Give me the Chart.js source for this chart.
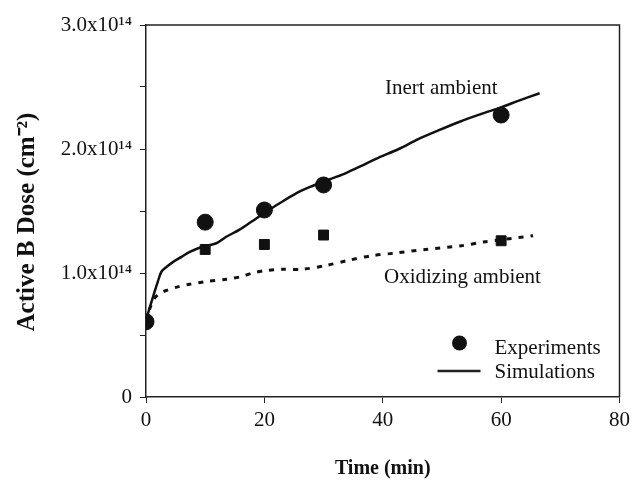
<!DOCTYPE html>
<html>
<head>
<meta charset="utf-8">
<script src="https://cdn.jsdelivr.net/npm/chart.js@4.4.1/dist/chart.umd.min.js"></script>
<style>
  body { margin: 0; background: #fff; }
  #wrap { width: 635px; height: 485px; }
</style>
</head>
<body>
<div id="wrap"><canvas id="myChart" width="635" height="485"></canvas></div>
<script>
// dose values are in units of 1e14 cm^-2
const expTime = [0, 10, 20, 30, 60]
const expInert = [0.607, 1.41, 1.508, 1.71, 2.274]
const expOxTime = [10, 20, 30, 60]
const expOx = [1.19, 1.23, 1.306, 1.26]

const simInertTime = [0, 0.5, 1.2, 2, 2.6, 3.5, 4.6, 6, 7.4, 9.4, 11.9, 13.5, 15.8, 18, 20.2, 22.5, 25.3, 27.5, 30.1, 33.5, 37.1, 39.3, 42.7, 46, 49.4, 53, 56.5, 60.2, 63, 66.5]
const simInert = [0.61, 0.70, 0.81, 0.93, 1.01, 1.05, 1.09, 1.13, 1.17, 1.21, 1.24, 1.29, 1.35, 1.42, 1.49, 1.56, 1.64, 1.69, 1.74, 1.80, 1.88, 1.93, 2.00, 2.08, 2.15, 2.22, 2.28, 2.34, 2.39, 2.45]

const simOxTime = [0, 0.7, 1.5, 2.5, 3.5, 5.5, 7.4, 10, 13.6, 16, 18, 20.3, 23, 26.4, 30.4, 34, 38.2, 42, 47.2, 53.3, 57, 60.2, 65.4]
const simOx = [0.61, 0.72, 0.80, 0.84, 0.86, 0.89, 0.91, 0.93, 0.95, 0.97, 1.00, 1.02, 1.03, 1.03, 1.06, 1.10, 1.14, 1.16, 1.19, 1.22, 1.25, 1.27, 1.30]

const xTicks = [0, 20, 40, 60, 80]
const yTickLabels = {0: '0', 1: '1.0x10¹⁴', 2: '2.0x10¹⁴', 3: '3.0x10¹⁴'}
const yTitle = 'Active B Dose (cm⁻²)'

const serif = '"Liberation Serif", "Times New Roman", serif'

function pts(xs, ys) {
  let out = []
  for (let i = 0; i < xs.length; i++) {
    out.push({x: xs[i], y: ys[i]})
  }
  return out
}

// box on top and right, y title, text labels and legend
const extras = {
  id: 'extras',
  afterDatasetsDraw(chart) {
    const ctx = chart.ctx
    const a = chart.chartArea
    ctx.save()
    ctx.strokeStyle = '#222'
    ctx.lineWidth = 1.5
    ctx.beginPath()
    ctx.moveTo(a.left, a.top)
    ctx.lineTo(a.right, a.top)
    ctx.lineTo(a.right, a.bottom)
    ctx.stroke()

    ctx.fillStyle = '#111'
    ctx.textBaseline = 'middle'

    // y axis title, a bit below the middle like the original
    ctx.save()
    ctx.translate(28, (a.top + a.bottom) / 2 + 11)
    ctx.rotate(-Math.PI / 2)
    ctx.textAlign = 'center'
    ctx.font = 'bold 25px ' + serif
    ctx.fillText(yTitle, 0, 0)
    ctx.restore()

    ctx.font = '21px ' + serif
    ctx.textAlign = 'left'
    ctx.fillText('Inert ambient', 385, 88)
    ctx.fillText('Oxidizing ambient', 384, 277)

    // legend
    ctx.beginPath()
    ctx.arc(a.right - 160, a.bottom - 54, 7.5, 0, Math.PI * 2)
    ctx.fill()
    ctx.fillText('Experiments', a.right - 125, a.bottom - 49)
    ctx.lineWidth = 2.5
    ctx.beginPath()
    ctx.moveTo(a.right - 182, a.bottom - 26)
    ctx.lineTo(a.right - 139, a.bottom - 26)
    ctx.stroke()
    ctx.fillText('Simulations', a.right - 125, a.bottom - 25)
    ctx.restore()
  }
}

const ctx = document.getElementById('myChart').getContext('2d')

const config = {
  type: 'scatter',
  data: {
    datasets: [
      {
        label: 'Simulations (inert)',
        data: pts(simInertTime, simInert),
        showLine: true,
        borderColor: '#111',
        borderWidth: 2.5,
        pointRadius: 0,
        tension: 0.3
      },
      {
        label: 'Simulations (oxidizing)',
        data: pts(simOxTime, simOx),
        showLine: true,
        borderColor: '#111',
        borderWidth: 3,
        borderDash: [5, 7],
        pointRadius: 0,
        tension: 0.3
      },
      {
        label: 'Experiments (oxidizing)',
        data: pts(expOxTime, expOx),
        pointStyle: 'rect',
        pointRadius: 7,
        backgroundColor: '#111',
        borderColor: '#111'
      },
      {
        label: 'Experiments (inert)',
        data: pts(expTime, expInert),
        pointStyle: 'circle',
        pointRadius: 8,
        backgroundColor: '#111',
        borderColor: '#111'
      }
    ]
  },
  options: {
    responsive: false,
    animation: false,
    layout: { padding: { left: 0, right: 13, top: 25, bottom: 0 } },
    plugins: {
      legend: { display: false },
      tooltip: { enabled: false }
    },
    scales: {
      x: {
        type: 'linear',
        min: 0,
        max: 80,
        afterFit: function(s) { s.height = 88 },
        afterBuildTicks: function(s) { s.ticks = xTicks.map(v => ({value: v})) },
        grid: { drawOnChartArea: false, tickLength: 6, color: '#222' },
        border: { color: '#222', width: 1.5 },
        ticks: { color: '#111', font: { family: serif, size: 21 }, padding: 5 },
        title: {
          display: true,
          text: 'Time (min)',
          color: '#111',
          font: { family: serif, size: 20, weight: 'bold' },
          padding: { top: 9 }
        }
      },
      y: {
        min: 0,
        max: 3,
        afterFit: function(s) { s.width = 146 },
        ticks: {
          stepSize: 0.5,
          color: '#111',
          font: { family: serif, size: 21 },
          padding: 8,
          callback: function(v) { return yTickLabels[v] || '' }
        },
        grid: { drawOnChartArea: false, tickLength: 6, color: '#222' },
        border: { color: '#222', width: 1.5 },
        title: { display: false }
      }
    }
  },
  plugins: [extras]
}

const myChart = new Chart(ctx, config)
</script>
</body>
</html>
